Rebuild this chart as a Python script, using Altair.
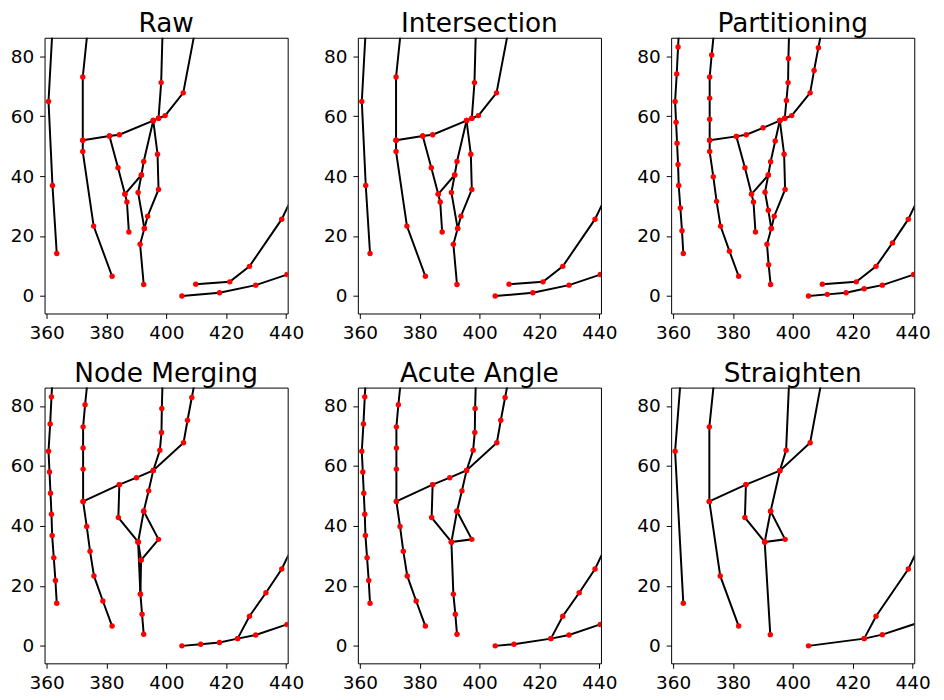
import altair as alt
import pandas as pd

X_TICKS = [360, 380, 400, 420, 440]
Y_TICKS = [0, 20, 40, 60, 80]
X_DOMAIN = [359.34, 440.53]
Y_DOMAIN = [-5.83, 86.14]

TITLES = ["Raw", "Intersection", "Partitioning", "Node Merging", "Acute Angle", "Straighten"]

# Each panel: list of polylines, each polyline a list of [x, y] vertices
RAW = [
    [[361.95, 88.5], [360.66, 64.91], [361.98, 36.85], [363.41, 14.19]],
    [[373.7, 88.5], [372.10, 73.05], [372.10, 51.93], [372.10, 48.18], [375.73, 23.32], [381.89, 6.60]],
    [[372.10, 51.93], [381.01, 53.36], [384.31, 53.79], [395.64, 58.53], [397.40, 59.30], [399.60, 60.18], [405.65, 67.77], [409.6, 88.5]],
    [[398.75, 88.5], [398.28, 71.18], [397.40, 59.30]],
    [[381.01, 53.36], [383.87, 42.79], [386.18, 33.99], [386.84, 31.35], [387.50, 21.34]],
    [[395.64, 58.53], [392.45, 44.88], [391.68, 40.37], [390.58, 34.54], [392.67, 22.55]],
    [[391.68, 40.37], [386.18, 33.99]],
    [[395.64, 58.53], [397.07, 47.30], [397.40, 35.53], [393.77, 26.62], [392.67, 22.55], [391.24, 17.27], [392.45, 3.85]],
    [[409.83, 3.96], [421.17, 4.73], [427.77, 9.90], [438.55, 25.63], [442.5, 33.9]],
    [[405.21, 0.0], [417.76, 1.10], [429.86, 3.63], [440.31, 7.15], [442.5, 7.9]],
]

INTERSECTION = [
    [[361.95, 88.5], [360.66, 64.91], [361.98, 36.85], [363.41, 14.19]],
    [[373.7, 88.5], [372.10, 73.05], [372.10, 51.93], [372.10, 48.18], [375.73, 23.32], [381.89, 6.60]],
    [[372.10, 51.93], [381.01, 53.36], [384.31, 53.79], [395.64, 58.53], [397.40, 59.30], [399.60, 60.18], [405.65, 67.77], [409.6, 88.5]],
    [[398.75, 88.5], [398.28, 71.18], [397.40, 59.30]],
    [[381.01, 53.36], [383.87, 42.79], [386.18, 33.99], [386.84, 31.35], [387.50, 21.34]],
    [[395.64, 58.53], [392.45, 44.88], [391.68, 40.37], [390.58, 34.54], [392.67, 22.55]],
    [[391.68, 40.37], [386.18, 33.99]],
    [[395.64, 58.53], [397.07, 47.30], [397.40, 35.53], [393.77, 26.62], [392.67, 22.55], [391.24, 17.27], [392.45, 3.85]],
    [[409.83, 3.96], [421.17, 4.73], [427.77, 9.90], [438.55, 25.63], [442.5, 33.9]],
    [[405.21, 0.0], [417.76, 1.10], [429.86, 3.63], [440.31, 7.15], [442.5, 7.9]],
]

PARTITIONING = [
    [[361.95, 88.5], [361.65, 83.06], [361.21, 74.04], [360.66, 64.91], [360.99, 57.97], [361.32, 50.94], [361.65, 43.89], [361.87, 36.85], [362.42, 29.37], [362.97, 21.78], [363.41, 14.19]],
    [[373.7, 88.5], [372.87, 80.42], [372.21, 73.05], [372.21, 66.01], [372.21, 58.96], [372.21, 51.93], [372.21, 48.18], [373.42, 39.82], [374.52, 31.57], [375.84, 23.32], [378.81, 14.96], [381.89, 6.60]],
    [[372.21, 51.93], [381.12, 53.25], [384.42, 53.79], [390.03, 56.10], [395.64, 58.53], [397.29, 59.30], [399.60, 60.18], [405.76, 67.77], [407.08, 75.25], [408.51, 82.84], [409.6, 88.5]],
    [[398.75, 88.5], [398.50, 79.21], [398.39, 71.18], [397.84, 65.24], [397.29, 59.30]],
    [[381.12, 53.25], [383.98, 42.79], [386.18, 33.99], [386.84, 31.35], [387.50, 21.34]],
    [[395.64, 58.53], [394.10, 51.71], [392.56, 44.77], [391.79, 40.37], [390.69, 34.65], [391.79, 28.60], [392.78, 22.55]],
    [[391.79, 40.37], [386.18, 33.99]],
    [[395.64, 58.53], [397.07, 47.30], [397.40, 35.53], [393.77, 26.62], [392.78, 22.55], [391.35, 17.27], [391.90, 10.45], [392.56, 3.85]],
    [[409.83, 3.96], [421.17, 4.73], [427.77, 9.90], [433.26, 17.71], [438.55, 25.63], [442.5, 33.9]],
    [[405.21, 0.0], [411.48, 0.55], [417.76, 1.10], [423.80, 2.42], [429.86, 3.63], [440.31, 7.15], [442.5, 7.9]],
]

NODE_MERGING = [
    [[361.95, 88.5], [361.65, 83.06], [361.21, 74.04], [360.66, 64.91], [360.99, 57.97], [361.32, 50.94], [361.65, 43.89], [361.87, 36.85], [362.42, 29.37], [362.97, 21.78], [363.41, 14.19]],
    [[373.7, 88.5], [372.87, 80.42], [372.21, 73.05], [372.21, 66.01], [372.21, 58.96], [372.21, 48.18], [373.42, 39.82], [374.52, 31.57], [375.84, 23.32], [378.81, 14.96], [381.89, 6.60]],
    [[372.21, 48.18], [384.31, 53.79], [390.03, 56.10], [395.64, 58.53], [405.76, 67.77], [407.08, 75.25], [408.51, 82.84], [409.6, 88.5]],
    [[398.75, 88.5], [398.50, 79.21], [398.39, 71.18], [397.84, 65.24], [395.64, 58.53], [394.10, 51.71], [392.45, 44.88], [390.58, 34.65], [391.57, 28.60], [391.35, 17.27], [391.90, 10.56], [392.45, 3.85]],
    [[384.31, 53.79], [383.98, 42.79], [390.58, 34.65]],
    [[392.45, 44.88], [397.40, 35.53], [391.57, 28.60]],
    [[390.58, 34.65], [391.35, 17.27]],
    [[405.21, 0.0], [411.48, 0.55], [417.76, 1.10], [423.80, 2.42], [429.86, 3.63], [440.31, 7.15], [442.5, 7.9]],
    [[423.80, 2.42], [427.77, 9.90], [433.26, 17.71], [438.55, 25.63], [442.5, 33.9]],
]

ACUTE_ANGLE = [
    [[361.95, 88.5], [361.65, 83.06], [361.21, 74.04], [360.66, 64.91], [360.99, 57.97], [361.32, 50.94], [361.65, 43.89], [361.87, 36.85], [362.42, 29.37], [362.97, 21.78], [363.41, 14.19]],
    [[373.7, 88.5], [372.87, 80.42], [372.21, 73.05], [372.21, 66.01], [372.21, 58.96], [372.21, 48.18], [373.42, 39.82], [374.52, 31.57], [375.84, 23.32], [378.81, 14.96], [381.89, 6.60]],
    [[372.21, 48.18], [384.31, 53.79], [390.03, 56.10], [395.64, 58.53], [405.76, 67.77], [407.08, 75.25], [408.51, 82.84], [409.6, 88.5]],
    [[398.75, 88.5], [398.50, 79.21], [398.39, 71.18], [397.84, 65.24], [395.64, 58.53], [394.10, 51.71], [392.45, 44.88], [390.58, 34.65], [391.24, 17.27], [391.90, 10.56], [392.45, 3.85]],
    [[384.31, 53.79], [383.98, 42.79], [390.58, 34.65]],
    [[392.45, 44.88], [397.40, 35.53], [390.58, 34.65]],
    [[405.21, 0.0], [411.48, 0.55], [423.80, 2.42], [429.86, 3.63], [440.31, 7.15], [442.5, 7.9]],
    [[423.80, 2.42], [427.77, 9.90], [433.26, 17.71], [438.55, 25.63], [442.5, 33.9]],
]

STRAIGHTEN = [
    [[362.5, 88.5], [360.66, 64.91], [363.41, 14.19]],
    [[373.7, 88.5], [372.10, 73.05], [372.10, 48.18], [375.73, 23.32], [381.89, 6.60]],
    [[372.10, 48.18], [384.31, 53.79], [395.64, 58.42], [405.76, 67.77], [409.6, 88.5]],
    [[398.75, 88.5], [397.73, 65.24], [395.64, 58.42], [392.56, 44.88], [390.58, 34.65], [392.45, 3.74]],
    [[384.31, 53.79], [383.98, 42.79], [390.58, 34.65]],
    [[392.56, 44.88], [397.40, 35.53], [390.58, 34.65]],
    [[405.21, 0.0], [423.80, 2.42], [429.86, 3.74], [442.5, 7.9]],
    [[423.80, 2.42], [427.77, 9.90], [438.55, 25.63], [442.5, 33.9]],
]

PANELS = [RAW, INTERSECTION, PARTITIONING, NODE_MERGING, ACUTE_ANGLE, STRAIGHTEN]


def make_panel(title, lines):
    rows = []
    for i, line in enumerate(lines):
        for j, (x, y) in enumerate(line):
            rows.append({"line": i, "order": j, "x": x, "y": y})
    df = pd.DataFrame(rows)
    xenc = alt.X(
        "x:Q",
        scale=alt.Scale(domain=X_DOMAIN, nice=False, zero=False),
        axis=alt.Axis(values=X_TICKS, labelFlush=False, labelPadding=5),
        title=None,
    )
    yenc = alt.Y(
        "y:Q",
        scale=alt.Scale(domain=Y_DOMAIN, nice=False, zero=False),
        axis=alt.Axis(values=Y_TICKS, labelFlush=False, labelPadding=6),
        title=None,
    )
    line_layer = alt.Chart(df).mark_line(color="black", strokeWidth=2, clip=True).encode(
        x=xenc, y=yenc, detail="line:N", order="order:Q"
    )
    pt_layer = alt.Chart(df).mark_circle(color="#ff0000", size=30, opacity=1, clip=True).encode(
        x=xenc, y=yenc
    )
    return alt.layer(line_layer, pt_layer).properties(
        width=246,
        height=279,
        title=alt.TitleParams(title, offset=0, anchor="middle", frame="group"),
    )


panels = [make_panel(t, p) for t, p in zip(TITLES, PANELS)]

chart = alt.concat(
    *panels, columns=3, spacing={"row": 75, "column": 71}, bounds="flush"
).properties(
    padding={"left": 1, "top": -2, "right": 5, "bottom": 5}
).configure_view(
    stroke="black", strokeWidth=1
).configure_axis(
    domain=False,
    grid=False,
    labelFont="DejaVu Sans",
    labelFontSize=18.67,
    labelColor="black",
    tickColor="black",
    tickSize=5,
    tickWidth=1,
).configure_title(
    font="DejaVu Sans", fontSize=26.67, fontWeight="normal", color="black"
)

chart.save("out.html", embed_options={"renderer": "svg", "actions": False})
